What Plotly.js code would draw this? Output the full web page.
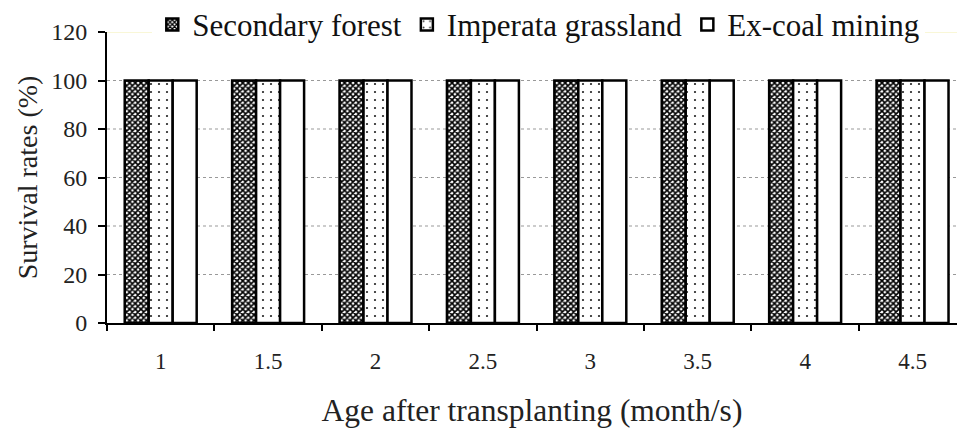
<!DOCTYPE html>
<html>
<head>
<meta charset="utf-8">
<script src="https://cdn.plot.ly/plotly-3.0.1.min.js"></script>
<style>html,body{margin:0;padding:0;background:#fff;}#chart{width:957px;height:428px;}</style>
</head>
<body>
<div id="chart"></div>
<script>
const categories = ['1', '1.5', '2', '2.5', '3', '3.5', '4', '4.5'];
const secondaryForest = [100, 100, 100, 100, 100, 100, 100, 100];
const imperataGrassland = [100, 100, 100, 100, 100, 100, 100, 100];
const exCoalMining = [100, 100, 100, 100, 100, 100, 100, 100];
const seriesNames = ['Secondary forest', 'Imperata grassland', 'Ex-coal mining'];
const yTicks = [0, 20, 40, 60, 80, 100, 120];
const gridLevels = [20, 40, 60, 80, 100];

const FONT = '"Liberation Serif", "Times New Roman", Times, serif';
const line = {color: '#000', width: 2.5};

const traces = [
  {type: 'bar', name: seriesNames[0], x: categories, y: secondaryForest,
   marker: {color: '#fff', line: line,
     pattern: {shape: 'x', size: 4, solidity: 0.65, fgcolor: '#000', bgcolor: '#fff'}}},
  {type: 'bar', name: seriesNames[1], x: categories, y: imperataGrassland,
   marker: {color: '#fff', line: line,
     pattern: {shape: '.', size: 8, solidity: 0.06, fgcolor: '#222', bgcolor: '#fff'}}},
  {type: 'bar', name: seriesNames[2], x: categories, y: exCoalMining,
   marker: {color: '#fff', line: line}}
];

const shapes = gridLevels.map(v => ({
  type: 'line', xref: 'paper', yref: 'y', x0: 0, x1: 1, y0: v, y1: v,
  line: {color: '#999', width: 1, dash: 'dot'}, layer: 'below'
}));
shapes.push({type: 'line', xref: 'paper', yref: 'y', x0: 0, x1: 1, y0: 120, y1: 120,
  line: {color: '#f4f0b0', width: 1}, layer: 'below'});

const layout = {
  width: 957, height: 428,
  margin: {l: 107, r: 0, t: 32, b: 105, autoexpand: false},
  paper_bgcolor: '#fff', plot_bgcolor: '#fff',
  font: {family: FONT, color: '#111', size: 20},
  barmode: 'group', bargap: 0.33, bargroupgap: 0,
  showlegend: true,
  legend: {orientation: 'h', x: 0.508, xanchor: 'center', y: 1.025, yanchor: 'middle',
    font: {family: FONT, size: 31, color: '#111'}, bgcolor: '#fff', traceorder: 'normal'},
  xaxis: {
    type: 'category', range: [-0.5, 7.414],
    showline: true, linecolor: '#000', linewidth: 2,
    ticks: 'outside', ticklen: 6, tickwidth: 2, tickcolor: '#000',
    tickson: 'boundaries', showgrid: false,
    tickfont: {family: FONT, size: 23, color: '#222'}, ticklabelstandoff: 16,
    title: {text: 'Age after transplanting (month/s)', font: {family: FONT, size: 31.5, color: '#222'}, standoff: 26}
  },
  yaxis: {
    range: [0, 120], tickvals: yTicks,
    showline: true, linecolor: '#000', linewidth: 2,
    ticks: 'outside', ticklen: 7, tickwidth: 2, tickcolor: '#000',
    showgrid: false, zeroline: false,
    tickfont: {family: FONT, size: 24, color: '#222'}, ticklabelstandoff: 6,
    title: {text: 'Survival rates (%)', font: {family: FONT, size: 28, color: '#222'}, standoff: 5}
  },
  shapes: shapes
};

Plotly.newPlot('chart', traces, layout, {displayModeBar: false, staticPlot: true});
</script>
</body>
</html>
